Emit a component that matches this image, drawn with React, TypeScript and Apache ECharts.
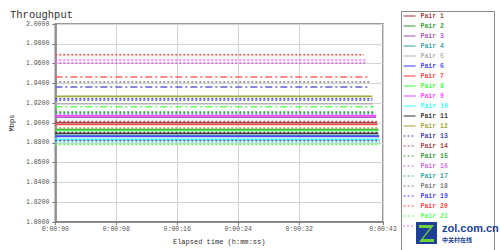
import React, { useEffect, useRef } from "react";
import * as echarts from "echarts";

const pairNames = [
  "Pair 1", "Pair 2", "Pair 3", "Pair 4", "Pair 5", "Pair 6", "Pair 7", "Pair 8",
  "Pair 9", "Pair 10", "Pair 11", "Pair 12", "Pair 13", "Pair 14", "Pair 15", "Pair 16",
  "Pair 17", "Pair 18", "Pair 19", "Pair 20", "Pair 21", "Pair 22", "Pair 23", "Pair 24",
  "Pair 25", "Pair 26", "Pair 27", "Pair 28", "Pair 29",
];
// throughput level (Mbps) of each pair
const pairLevels = [
  1.9003, 1.8935, 1.906, 1.8875, 1.9195, 1.8865, 1.8985, 1.8925,
  1.9075, 1.8835, 1.8895, 1.9269, 1.8824, 1.9016, 1.911, 1.9605,
  1.9094, 1.9414, 1.9246, 1.969, 1.8785, 1.9636, 1.8808, 1.8905,
  1.895, 1.923, 1.9465, 1.9364, 1.9165,
];
// elapsed time (s) at which each pair finished
const pairEnds = [
  42.2, 42.4, 42.1, 42.5, 41.7, 42.5, 42.3, 42.4,
  42.1, 42.5, 42.4, 41.6, 42.6, 42.2, 42.0, 40.9,
  42.0, 41.3, 41.6, 40.5, 42.6, 40.8, 42.6, 42.4,
  42.3, 41.6, 41.1, 41.3, 41.8,
];
const xTicks = [0, 8, 16, 24, 32, 43];
const legendCount = 21;

const pairColors = [
  "#a84848", "#40a040", "#b060c0", "#40a8a8", "#b4b4b4", "#4848ff", "#ff4848", "#48ff48",
  "#ff48ff", "#48ffff", "#404040", "#a8a840", "#4848a8", "#a84848", "#40a040", "#d070e0",
  "#40a8a8", "#808080", "#4848ff", "#ff4848", "#60ff60", "#ff60ff", "#48e8e8", "#404040",
  "#a8a840", "#7070ff", "#ff6060", "#6060d0", "#60ff60",
];
const pairDash: any[] = pairNames.map((_, i) =>
  i < 12 ? "solid" : i < 26 ? [2, 2] : [7, 3, 2, 3]
);

const MONO = "'Liberation Mono', 'DejaVu Sans Mono', monospace";

function fmtTime(v: number) {
  const s = Math.round(v);
  return "0:00:" + String(s).padStart(2, "0");
}

export default function App() {
  const ref = useRef<HTMLDivElement>(null);
  useEffect(() => {
    if (!ref.current) return;
    const chart = echarts.init(ref.current, undefined, { renderer: "svg" });
    const series = pairNames.map((name, i) => ({
      name,
      type: "line",
      symbol: "none",
      silent: true,
      color: pairColors[i],
      lineStyle: { color: pairColors[i], width: 1.6, type: pairDash[i] },
      data: [
        [0, pairLevels[i]],
        [pairEnds[i], pairLevels[i]],
      ],
    }));
    chart.setOption({
      animation: false,
      backgroundColor: "#ffffff",
      title: {
        text: "Throughput",
        left: 5,
        top: 4,
        textStyle: { fontFamily: MONO, fontSize: 10.5, fontWeight: "normal", color: "#333" },
      },
      grid: {
        left: 42,
        top: 24,
        right: 117,
        bottom: 27,
        show: true,
        borderColor: "#7a7a7a",
        borderWidth: 1.5,
      },
      xAxis: {
        type: "value",
        min: 0,
        max: 43,
        name: "Elapsed time (h:mm:ss)",
        nameLocation: "middle",
        nameGap: 15,
        nameTextStyle: { fontFamily: MONO, fontSize: 7, color: "#333" },
        axisLine: { lineStyle: { color: "#7a7a7a", width: 1.5 } },
        axisTick: { show: true, length: 3, customValues: xTicks, lineStyle: { color: "#7a7a7a" } },
        axisLabel: {
          customValues: xTicks,
          formatter: (v: number) => fmtTime(v),
          fontFamily: MONO,
          fontSize: 6.5,
          color: "#555",
          margin: 4,
        },
        splitLine: { show: true, lineStyle: { color: "#d4d4d4", width: 1 } },
      },
      yAxis: {
        type: "value",
        min: 1.8,
        max: 2.0,
        interval: 0.02,
        name: "Mbps",
        nameLocation: "middle",
        nameGap: 33,
        nameTextStyle: { fontFamily: MONO, fontSize: 7, color: "#333" },
        axisLine: { show: true, lineStyle: { color: "#7a7a7a", width: 1.5 } },
        axisTick: { show: true, length: 3, lineStyle: { color: "#7a7a7a" } },
        axisLabel: {
          formatter: (v: number) => v.toFixed(4),
          fontFamily: MONO,
          fontSize: 6.5,
          color: "#555",
          margin: 6,
        },
        splitLine: { show: true, lineStyle: { color: "#d4d4d4", width: 1 } },
      },
      legend: {
        orient: "vertical",
        left: 403,
        top: 12,
        padding: 0,
        itemWidth: 12,
        itemHeight: 8,
        itemGap: 2,
        itemStyle: { color: "rgba(0,0,0,0)", borderWidth: 0, opacity: 0 },
        lineStyle: { width: 1.1 },
        data: pairNames.slice(0, legendCount).map((name, i) => ({
          name,
          textStyle: { color: pairColors[i] },
        })),
        textStyle: { fontFamily: MONO, fontSize: 6.5, fontWeight: "bold", lineHeight: 8 },
      },
      graphic: [
        {
          type: "rect",
          left: 399,
          top: 9,
          shape: { width: 93, height: 245 },
          style: { fill: "none", stroke: "#8a8a8a", lineWidth: 1 },
          z: -1,
        },
        {
          type: "line",
          shape: { x1: 403, y1: 226, x2: 415, y2: 226 },
          style: { stroke: pairColors[legendCount], lineWidth: 1.1, lineDash: [2, 2] },
        },
        {
          type: "rect",
          left: 416,
          top: 222,
          shape: { width: 21, height: 22 },
          style: { fill: "#1d3f95" },
          z: 100,
        },
        {
          type: "polygon",
          shape: { points: [[419, 225], [434, 225], [423, 239], [434, 239], [434, 242], [419, 242], [430, 228], [419, 228]] },
          style: { fill: "#6fd23a" },
          z: 101,
        },
        {
          type: "text",
          left: 442,
          top: 222,
          style: { text: "zol.com.cn", font: "bold 11px 'Liberation Sans', Arial, sans-serif", fill: "#1d3f95" },
          z: 100,
        },
        {
          type: "text",
          left: 442,
          top: 236,
          style: { text: "中关村在线", font: "bold 6px 'Noto Sans CJK SC', sans-serif", fill: "#1d3f95" },
          z: 100,
        },
      ],
      series,
    });
    return () => chart.dispose();
  }, []);
  return (
    <div
      ref={ref}
      style={{ position: "fixed", left: 0, top: 0, width: 500, height: 250, background: "#fff" }}
    />
  );
}
